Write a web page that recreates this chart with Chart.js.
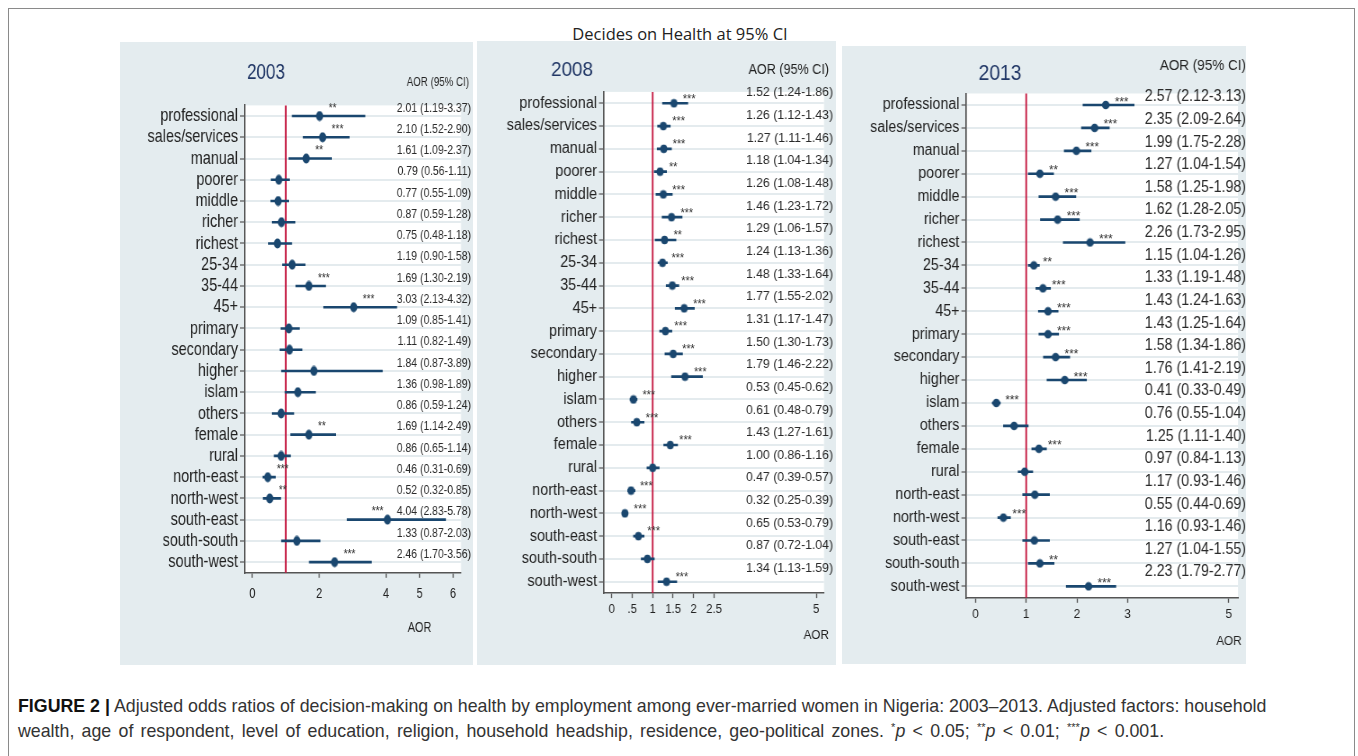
<!DOCTYPE html>
<html>
<head>
<meta charset="utf-8">
<title>Decides on Health at 95% CI</title>
<script src="https://cdn.jsdelivr.net/npm/chart.js@4.4.1/dist/chart.umd.min.js"></script>
<style>
  html, body { margin: 0; padding: 0; background: #fff; width: 1358px; height: 756px; overflow: hidden; }
  #frame { position: absolute; left: 8px; top: 8px; width: 1347px; height: 800px; border: 1.5px solid #8a8a8a; box-sizing: border-box; }
  .panel { position: absolute; background: #e4ecef; }
  .panel canvas { position: absolute; left: 0; top: 0; }
  #heading { position: absolute; left: 480px; width: 400px; top: 24px; line-height: 20px; text-align: center;
             font-family: 'Open Sans', sans-serif; font-size: 16.5px; color: #222; }
  #caption { position: absolute; left: 18px; top: 694px; font-family: 'Liberation Sans', Arial, sans-serif;
             font-size: 17.8px; line-height: 25px; color: #333; white-space: nowrap; }
  #caption b { color: #111; }
  #caption .second { word-spacing: 2.3px; }
  #caption sup { font-size: 11px; vertical-align: 6px; line-height: 0; }
</style>
</head>
<body>
<div id="frame"></div>
<div id="heading">Decides on Health at 95% CI</div>
<div class="panel" id="p2003"><canvas id="c2003"></canvas></div>
<div class="panel" id="p2008"><canvas id="c2008"></canvas></div>
<div class="panel" id="p2013"><canvas id="c2013"></canvas></div>
<div id="caption"><b>FIGURE 2 |</b> Adjusted odds ratios of decision-making on health by employment among ever-married women in Nigeria: 2003–2013. Adjusted factors: household<br><span class="second">wealth, age of respondent, level of education, religion, household headship, residence, geo-political zones. <sup>*</sup><i>p</i> &lt; 0.05; <sup>**</sup><i>p</i> &lt; 0.01; <sup>***</sup><i>p</i> &lt; 0.001.</span></div>

<script>
// Covariate rows, top to bottom
const categories = ['professional', 'sales/services', 'manual', 'poorer', 'middle', 'richer', 'richest',
  '25-34', '35-44', '45+', 'primary', 'secondary', 'higher', 'islam', 'others', 'female', 'rural',
  'north-east', 'north-west', 'south-east', 'south-south', 'south-west'];

// 2003 survey: adjusted odds ratios, 95% CI bounds and significance stars
const aor2003   = [2.01, 2.10, 1.61, 0.79, 0.77, 0.87, 0.75, 1.19, 1.69, 3.03, 1.09, 1.11, 1.84, 1.36, 0.86, 1.69, 0.86, 0.46, 0.52, 4.04, 1.33, 2.46];
const lower2003 = [1.19, 1.52, 1.09, 0.56, 0.55, 0.59, 0.48, 0.90, 1.30, 2.13, 0.85, 0.82, 0.87, 0.98, 0.59, 1.14, 0.65, 0.31, 0.32, 2.83, 0.87, 1.70];
const upper2003 = [3.37, 2.90, 2.37, 1.11, 1.09, 1.28, 1.18, 1.58, 2.19, 4.32, 1.41, 1.49, 3.89, 1.89, 1.24, 2.49, 1.14, 0.69, 0.85, 5.78, 2.03, 3.56];
const stars2003 = ['**', '***', '**', '', '', '', '', '', '***', '***', '', '', '', '', '', '**', '', '***', '**', '***', '', '***'];

// 2008 survey
const aor2008   = [1.52, 1.26, 1.27, 1.18, 1.26, 1.46, 1.29, 1.24, 1.48, 1.77, 1.31, 1.50, 1.79, 0.53, 0.61, 1.43, 1.00, 0.47, 0.32, 0.65, 0.87, 1.34];
const lower2008 = [1.24, 1.12, 1.11, 1.04, 1.08, 1.23, 1.06, 1.13, 1.33, 1.55, 1.17, 1.30, 1.46, 0.45, 0.48, 1.27, 0.86, 0.39, 0.25, 0.53, 0.72, 1.13];
const upper2008 = [1.86, 1.43, 1.46, 1.34, 1.48, 1.72, 1.57, 1.36, 1.64, 2.02, 1.47, 1.73, 2.22, 0.62, 0.79, 1.61, 1.16, 0.57, 0.39, 0.79, 1.04, 1.59];
const stars2008 = ['***', '***', '***', '**', '***', '***', '**', '***', '***', '***', '***', '***', '***', '***', '***', '***', '', '***', '***', '***', '', '***'];

// 2013 survey
const aor2013   = [2.57, 2.35, 1.99, 1.27, 1.58, 1.62, 2.26, 1.15, 1.33, 1.43, 1.43, 1.58, 1.76, 0.41, 0.76, 1.25, 0.97, 1.17, 0.55, 1.16, 1.27, 2.23];
const lower2013 = [2.12, 2.09, 1.75, 1.04, 1.25, 1.28, 1.73, 1.04, 1.19, 1.24, 1.25, 1.34, 1.41, 0.33, 0.55, 1.11, 0.84, 0.93, 0.44, 0.93, 1.04, 1.79];
const upper2013 = [3.13, 2.64, 2.28, 1.54, 1.98, 2.05, 2.95, 1.26, 1.48, 1.63, 1.64, 1.86, 2.19, 0.49, 1.04, 1.40, 1.13, 1.46, 0.69, 1.46, 1.55, 2.77];
const stars2013 = ['***', '***', '***', '**', '***', '***', '***', '**', '***', '***', '***', '***', '***', '***', '', '***', '', '', '***', '', '**', '***'];

// X-axis ticks per panel
const ticks2003 = [0, 2, 4, 5, 6];
const tickText2003 = ['0', '2', '4', '5', '6'];
const ticks2008 = [0, 0.5, 1, 1.5, 2, 2.5, 5];
const tickText2008 = ['0', '.5', '1', '1.5', '2', '2.5', '5'];
const ticks2013 = [0, 1, 2, 3, 5];
const tickText2013 = ['0', '1', '2', '3', '5'];

const referenceOR = 1;
const axisTitleAt = 5;

// ---- styling ----
const SANS = "'Liberation Sans', Arial, sans-serif";
const NAVY = '#1a476f';
const AXIS = '#555';
const GRID = '#e4ebee';
const REDLINE = '#c4163f';
const TEXT = '#222';
const YEARCOL = '#213766';

// Panel layout in page pixels. Each panel is drawn on a wider canvas and
// squeezed horizontally by `squeeze`, giving the condensed lettering.
const layouts = {
  2003: {
    box: [120, 42, 353, 623], area: [245, 105.4, 461, 572.8], xRange: [-0.22, 6.24], squeeze: 0.78,
    catSize: 18.5, tickSize: 14, tickPad: 8,
    year: { x: 266, y: 73, size: 22 },
    head: { x: 469, y: 83, size: 12.5 },
    values: { x: 471, dy: -8, drift: 0, size: 13.4 },
    stars: { dx: 9, dy: -8, size: 13 },
    axisTitle: { y: 628, size: 14 },
    dot: [7, 10], ci: 2
  },
  2008: {
    box: [477, 41, 359, 624], area: [604, 91.9, 824, 593.1], xRange: [-0.19, 5.19], squeeze: 0.9,
    catSize: 16, tickSize: 12.5, tickPad: 4,
    year: { x: 572, y: 70, size: 21 },
    head: { x: 829, y: 70, size: 14 },
    values: { x: 833, dy: -10.6, drift: -2.8, size: 13.6 },
    stars: { dx: 9, dy: -4, size: 12 },
    axisTitle: { y: 635, size: 13 },
    dot: [7, 8.5], ci: 2
  },
  2013: {
    box: [842, 46, 404, 618], area: [966.4, 93.5, 1238, 597.8], xRange: [-0.18, 5.18], squeeze: 0.9,
    catSize: 15.8, tickSize: 13, tickPad: 4,
    year: { x: 1000, y: 74, size: 21.5 },
    head: { x: 1246, y: 66, size: 15 },
    values: { x: 1246, dy: -8, drift: -6.3, size: 15.8 },
    stars: { dx: 9, dy: -3, size: 13 },
    axisTitle: { y: 641, size: 13 },
    dot: [7.5, 8.5], ci: 2
  }
};

function font(size) { return size + 'px ' + SANS; }

function ellipseMarker(w, h) {
  const c = document.createElement('canvas');
  c.width = Math.ceil(w) + 1;
  c.height = Math.ceil(h) + 1;
  const g = c.getContext('2d');
  g.fillStyle = NAVY;
  g.beginPath();
  g.ellipse(c.width / 2, c.height / 2, w / 2, h / 2, 0, 0, Math.PI * 2);
  g.fill();
  return c;
}

function buildPanel(year, aor, lower, upper, stars, xTicks, xTickText) {
  const L = layouts[year];
  const [bx, by, bw, bh] = L.box;
  const panel = document.getElementById('p' + year);
  Object.assign(panel.style, { left: bx + 'px', top: by + 'px', width: bw + 'px', height: bh + 'px' });

  // wider drawing surface, shown at the panel's width
  const cw = Math.round(bw / L.squeeze);
  const k = bw / cw;
  const canvas = document.getElementById('c' + year);
  canvas.width = cw;
  canvas.height = bh;
  canvas.style.width = bw + 'px';
  canvas.style.height = bh + 'px';
  const X = (px) => (px - bx) / k;   // page x -> canvas x
  const Y = (py) => py - by;         // page y -> canvas y

  const area = { left: X(L.area[0]), top: Y(L.area[1]), right: X(L.area[2]), bottom: Y(L.area[3]) };
  const ciRanges = lower.map((lo, i) => [lo, upper[i]]);
  const valueText = aor.map((v, i) => `${v.toFixed(2)} (${lower[i].toFixed(2)}-${upper[i].toFixed(2)})`);

  const decor = {
    id: 'decor' + year,
    beforeDraw(chart) {
      const { ctx, chartArea: a } = chart;
      ctx.save();
      ctx.fillStyle = '#fff';
      ctx.fillRect(a.left, a.top, a.right - a.left, a.bottom - a.top);
      ctx.restore();
    },
    beforeDatasetsDraw(chart) {
      const { ctx, chartArea: a, scales } = chart;
      const xr = scales.x.getPixelForValue(referenceOR);
      ctx.save();
      ctx.strokeStyle = REDLINE;
      ctx.lineWidth = 1.6 / k;
      ctx.beginPath();
      ctx.moveTo(xr, a.top);
      ctx.lineTo(xr, a.bottom);
      ctx.stroke();
      ctx.restore();
    },
    afterDatasetsDraw(chart) {
      const { ctx, scales } = chart;
      const n = categories.length;
      ctx.save();
      ctx.textBaseline = 'middle';
      // year heading
      ctx.fillStyle = YEARCOL;
      ctx.font = font(L.year.size);
      ctx.textAlign = 'center';
      ctx.fillText(String(year), X(L.year.x), Y(L.year.y));
      // column heading
      ctx.fillStyle = TEXT;
      ctx.font = font(L.head.size);
      ctx.textAlign = 'right';
      ctx.fillText('AOR (95% CI)', X(L.head.x), Y(L.head.y));
      // AOR (95% CI) column
      ctx.font = font(L.values.size);
      ctx.fillStyle = '#2a2a2a';
      let minLeft = Infinity;
      valueText.forEach((t, i) => {
        const y = scales.y.getPixelForValue(i) + L.values.dy + L.values.drift * i / (n - 1);
        ctx.fillText(t, X(L.values.x), y);
        minLeft = Math.min(minLeft, X(L.values.x) - ctx.measureText(t).width);
      });
      // significance stars beside each estimate
      ctx.font = font(L.stars.size);
      ctx.fillStyle = '#333';
      stars.forEach((s, i) => {
        if (!s) return;
        const px = scales.x.getPixelForValue(aor[i]);
        const py = scales.y.getPixelForValue(i) + L.stars.dy;
        const w = ctx.measureText(s).width;
        if (px + L.stars.dx / k + w > minLeft - 2) {
          ctx.textAlign = 'right';
          ctx.fillText(s, px - 4 / k, py);
        } else {
          ctx.textAlign = 'left';
          ctx.fillText(s, px + L.stars.dx / k, py);
        }
      });
      // x-axis title
      ctx.font = font(L.axisTitle.size);
      ctx.fillStyle = TEXT;
      ctx.textAlign = 'center';
      ctx.fillText('AOR', scales.x.getPixelForValue(axisTitleAt), Y(L.axisTitle.y));
      ctx.restore();
    }
  };

  return new Chart(canvas, {
    type: 'bar',
    data: {
      labels: categories,
      datasets: [
        { type: 'bar', data: ciRanges, backgroundColor: NAVY, borderWidth: 0, barThickness: L.ci, order: 2 },
        { type: 'line', data: aor, showLine: false, pointStyle: ellipseMarker(L.dot[0] / k, L.dot[1]),
          pointRadius: 4, pointHoverRadius: 4, order: 1 }
      ]
    },
    options: {
      indexAxis: 'y',
      responsive: false,
      animation: false,
      devicePixelRatio: 1,
      events: [],
      layout: { padding: { left: 0, top: area.top, right: cw - area.right, bottom: 0 } },
      plugins: { legend: { display: false }, tooltip: { enabled: false }, title: { display: false } },
      scales: {
        x: {
          type: 'linear',
          min: L.xRange[0],
          max: L.xRange[1],
          afterFit(s) { s.height = bh - area.bottom; },
          afterBuildTicks(s) { s.ticks = xTicks.map(v => ({ value: v })); },
          ticks: {
            autoSkip: false, maxRotation: 0, minRotation: 0, padding: L.tickPad,
            font: { family: SANS, size: L.tickSize }, color: TEXT,
            callback: (v) => xTickText[xTicks.indexOf(v)]
          },
          grid: { drawOnChartArea: false, drawTicks: true, tickLength: 5, tickColor: AXIS, tickWidth: 1.2 / k },
          border: { color: AXIS, width: 1.5 }
        },
        y: {
          type: 'category',
          offset: true,
          afterFit(s) { s.width = area.left; },
          ticks: { autoSkip: false, padding: 2 / k, font: { family: SANS, size: L.catSize }, color: TEXT },
          grid: { offset: false, color: GRID, lineWidth: 2, tickColor: AXIS, tickWidth: 1.2, tickLength: 5 / k },
          border: { color: AXIS, width: 1.5 / k }
        }
      }
    },
    plugins: [decor]
  });
}

buildPanel(2003, aor2003, lower2003, upper2003, stars2003, ticks2003, tickText2003);
buildPanel(2008, aor2008, lower2008, upper2008, stars2008, ticks2008, tickText2008);
buildPanel(2013, aor2013, lower2013, upper2013, stars2013, ticks2013, tickText2013);
</script>
</body>
</html>
